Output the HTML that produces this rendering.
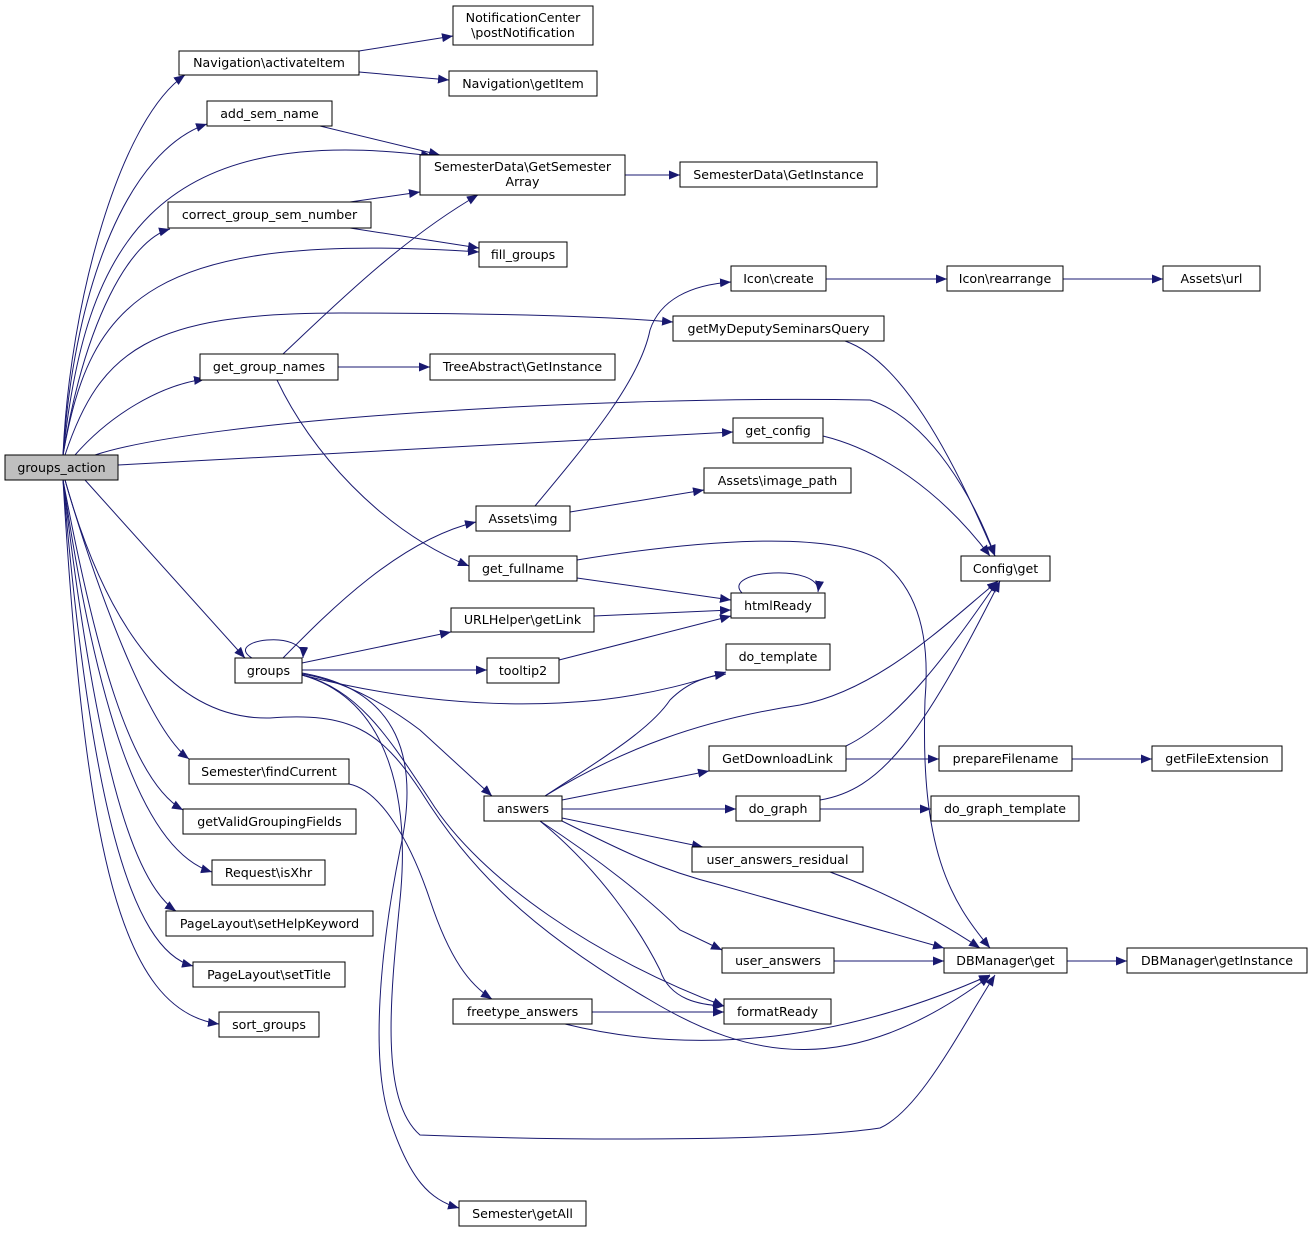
<!DOCTYPE html>
<html><head><meta charset="utf-8"><style>
html,body{margin:0;padding:0;background:#fff;}
svg{display:block;}
text{font-family:"DejaVu Sans","Liberation Sans",sans-serif;font-size:12.6px;fill:#000;text-anchor:middle;}
.n{fill:#fff;stroke:#000;stroke-width:1;}
.e{fill:none;stroke:#191970;stroke-width:1;}
</style></head><body>
<svg width="1312" height="1234" viewBox="0 0 1312 1234" xmlns="http://www.w3.org/2000/svg">
<defs><marker id="a" markerUnits="userSpaceOnUse" markerWidth="12" markerHeight="10" refX="11" refY="4.5" orient="auto"><polygon points="0,0 11,4.5 0,9" fill="#191970"/></marker></defs>
<g marker-end="url(#a)" class="e">
<path class="e" d="M63,455 C70,300 120,120 185,75"/>
<path class="e" d="M63,455 C75,280 130,150 207,124"/>
<path class="e" d="M63,455 C85,250 150,120 432,156"/>
<path class="e" d="M63,455 C85,320 130,240 170,229"/>
<path class="e" d="M63,455 C90,300 150,230 479,252"/>
<path class="e" d="M65,455 C100,350 150,313 340,313 C500,313 600,316 673,322"/>
<path class="e" d="M75,455 C110,415 160,385 205,379"/>
<path class="e" d="M95,455 C200,420 600,395 870,400 C930,420 975,500 995,556"/>
<path class="e" d="M118,465 L733,432"/>
<path class="e" d="M85,480 L245,658"/>
<path class="e" d="M65,480 C100,600 150,730 189,759"/>
<path class="e" d="M63,480 C95,650 130,780 183,810"/>
<path class="e" d="M63,480 C95,700 140,850 212,872"/>
<path class="e" d="M63,480 C95,750 130,880 176,911"/>
<path class="e" d="M63,480 C90,800 130,950 193,966"/>
<path class="e" d="M63,480 C85,850 120,1010 219,1024"/>
<path class="e" d="M65,480 C110,640 180,720 270,718 C350,712 380,730 420,790 C470,870 530,930 650,1000 C750,1060 850,1080 990,976"/>
<path class="e" d="M252,658 C222,640 305,628 303,658"/>
<path class="e" d="M283,658 C330,610 400,540 476,522"/>
<path class="e" d="M302,663 L451,632"/>
<path class="e" d="M302,670 L487,670"/>
<path class="e" d="M302,675 C400,700 500,710 600,700 C660,693 700,680 726,672"/>
<path class="e" d="M302,674 C340,680 380,700 420,730 L492,796"/>
<path class="e" d="M302,675 C360,690 390,740 430,800 C480,880 600,960 724,1006"/>
<path class="e" d="M302,673 C400,690 420,760 400,850 C380,950 370,1060 390,1120 C410,1180 430,1200 459,1208"/>
<path class="e" d="M302,675 C390,700 410,800 400,900 C390,1000 380,1100 420,1135 C600,1142 800,1140 880,1128 C920,1110 960,1030 995,975"/>
<path class="e" d="M349,784 C380,790 410,840 430,900 C450,960 470,985 492,999"/>
<path class="e" d="M283,354 C330,310 400,240 478,195"/>
<path class="e" d="M338,367 L430,367"/>
<path class="e" d="M277,380 C310,450 380,530 469,566"/>
<path class="e" d="M320,126 L440,155"/>
<path class="e" d="M350,202 L420,192"/>
<path class="e" d="M350,228 L479,248"/>
<path class="e" d="M359,51 L453,36"/>
<path class="e" d="M359,72 L449,80"/>
<path class="e" d="M625,175 L680,175"/>
<path class="e" d="M535,506 C590,440 640,380 650,330 C660,300 690,285 731,282"/>
<path class="e" d="M570,512 L704,490"/>
<path class="e" d="M577,578 L731,600"/>
<path class="e" d="M577,560 C700,540 830,530 880,560 C920,590 930,640 925,700 C920,850 950,900 990,948"/>
<path class="e" d="M594,616 L731,610"/>
<path class="e" d="M559,660 L731,616"/>
<path class="e" d="M742,593 C720,570 822,563 818,592"/>
<path class="e" d="M826,279 L947,279"/>
<path class="e" d="M1063,279 L1163,279"/>
<path class="e" d="M845,341 C900,360 950,450 995,556"/>
<path class="e" d="M823,436 C880,450 940,490 990,556"/>
<path class="e" d="M545,796 C600,760 650,730 670,700 C690,680 710,676 726,674"/>
<path class="e" d="M545,796 C620,750 700,720 800,705 C880,690 950,620 998,581"/>
<path class="e" d="M562,800 L709,771"/>
<path class="e" d="M562,809 L736,809"/>
<path class="e" d="M562,818 L703,847"/>
<path class="e" d="M562,821 C620,850 660,870 720,885 L944,948"/>
<path class="e" d="M540,821 C600,860 650,900 680,930 L722,950"/>
<path class="e" d="M540,821 C600,870 640,930 660,970 C670,1000 700,1005 724,1006"/>
<path class="e" d="M846,746 C900,720 950,650 998,581"/>
<path class="e" d="M846,759 L939,759"/>
<path class="e" d="M1072,759 L1152,759"/>
<path class="e" d="M820,800 C880,790 920,740 1000,581"/>
<path class="e" d="M820,809 L931,809"/>
<path class="e" d="M830,872 C880,890 930,915 980,948"/>
<path class="e" d="M834,961 L944,961"/>
<path class="e" d="M1067,961 L1127,961"/>
<path class="e" d="M592,1012 L724,1012"/>
<path class="e" d="M565,1024 C650,1045 800,1060 990,975"/>
</g>
<g>
<rect x="5" y="455" width="113" height="25" fill="#bfbfbf" stroke="#000"/><text x="61.5" y="472">groups_action</text>
<rect class="n" x="453" y="6" width="140" height="39"/><text x="523" y="22">NotificationCenter</text><text x="523" y="37">\postNotification</text>
<rect class="n" x="179" y="51" width="180" height="24"/><text x="269" y="67">Navigation\activateItem</text>
<rect class="n" x="449" y="71" width="148" height="25"/><text x="523" y="88">Navigation\getItem</text>
<rect class="n" x="207" y="101" width="125" height="25"/><text x="269.5" y="118">add_sem_name</text>
<rect class="n" x="420" y="155" width="205" height="40"/><text x="522.5" y="171">SemesterData\GetSemester</text><text x="522.5" y="186">Array</text>
<rect class="n" x="680" y="162" width="197" height="25"/><text x="778.5" y="179">SemesterData\GetInstance</text>
<rect class="n" x="168" y="202" width="203" height="26"/><text x="269.5" y="219">correct_group_sem_number</text>
<rect class="n" x="479" y="242" width="88" height="25"/><text x="523" y="259">fill_groups</text>
<rect class="n" x="731" y="266" width="95" height="25"/><text x="778.5" y="283">Icon\create</text>
<rect class="n" x="947" y="266" width="116" height="25"/><text x="1005" y="283">Icon\rearrange</text>
<rect class="n" x="1163" y="266" width="97" height="25"/><text x="1211.5" y="283">Assets\url</text>
<rect class="n" x="673" y="316" width="211" height="25"/><text x="778.5" y="333">getMyDeputySeminarsQuery</text>
<rect class="n" x="200" y="354" width="138" height="26"/><text x="269" y="371">get_group_names</text>
<rect class="n" x="430" y="354" width="185" height="26"/><text x="522.5" y="371">TreeAbstract\GetInstance</text>
<rect class="n" x="733" y="418" width="90" height="25"/><text x="778" y="435">get_config</text>
<rect class="n" x="704" y="468" width="147" height="25"/><text x="777.5" y="485">Assets\image_path</text>
<rect class="n" x="476" y="506" width="94" height="25"/><text x="523" y="523">Assets\img</text>
<rect class="n" x="469" y="556" width="108" height="25"/><text x="523" y="573">get_fullname</text>
<rect class="n" x="961" y="556" width="89" height="25"/><text x="1005.5" y="573">Config\get</text>
<rect class="n" x="731" y="593" width="94" height="25"/><text x="778" y="610">htmlReady</text>
<rect class="n" x="451" y="608" width="143" height="24"/><text x="522.5" y="624">URLHelper\getLink</text>
<rect class="n" x="726" y="644" width="104" height="26"/><text x="778" y="661">do_template</text>
<rect class="n" x="235" y="658" width="67" height="25"/><text x="268.5" y="675">groups</text>
<rect class="n" x="487" y="658" width="72" height="25"/><text x="523" y="675">tooltip2</text>
<rect class="n" x="709" y="746" width="137" height="25"/><text x="777.5" y="763">GetDownloadLink</text>
<rect class="n" x="939" y="746" width="133" height="25"/><text x="1005.5" y="763">prepareFilename</text>
<rect class="n" x="1152" y="746" width="130" height="25"/><text x="1217" y="763">getFileExtension</text>
<rect class="n" x="189" y="759" width="160" height="25"/><text x="269" y="776">Semester\findCurrent</text>
<rect class="n" x="484" y="796" width="78" height="25"/><text x="523" y="813">answers</text>
<rect class="n" x="736" y="796" width="84" height="25"/><text x="778" y="813">do_graph</text>
<rect class="n" x="931" y="796" width="148" height="25"/><text x="1005" y="813">do_graph_template</text>
<rect class="n" x="183" y="809" width="173" height="25"/><text x="269.5" y="826">getValidGroupingFields</text>
<rect class="n" x="692" y="847" width="171" height="25"/><text x="777.5" y="864">user_answers_residual</text>
<rect class="n" x="212" y="860" width="113" height="25"/><text x="268.5" y="877">Request\isXhr</text>
<rect class="n" x="166" y="911" width="207" height="25"/><text x="269.5" y="928">PageLayout\setHelpKeyword</text>
<rect class="n" x="722" y="948" width="112" height="25"/><text x="778" y="965">user_answers</text>
<rect class="n" x="944" y="948" width="123" height="25"/><text x="1005.5" y="965">DBManager\get</text>
<rect class="n" x="1127" y="948" width="180" height="25"/><text x="1217" y="965">DBManager\getInstance</text>
<rect class="n" x="193" y="962" width="152" height="25"/><text x="269" y="979">PageLayout\setTitle</text>
<rect class="n" x="453" y="999" width="139" height="25"/><text x="522.5" y="1016">freetype_answers</text>
<rect class="n" x="724" y="999" width="107" height="25"/><text x="777.5" y="1016">formatReady</text>
<rect class="n" x="219" y="1012" width="100" height="25"/><text x="269" y="1029">sort_groups</text>
<rect class="n" x="459" y="1201" width="127" height="25"/><text x="522.5" y="1218">Semester\getAll</text>
</g>
</svg>
</body></html>
